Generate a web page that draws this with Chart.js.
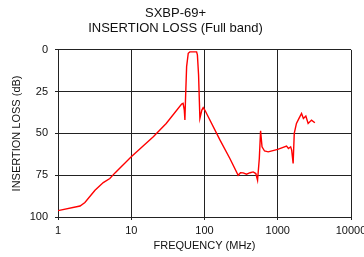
<!DOCTYPE html>
<html>
<head>
<meta charset="utf-8">
<script src="https://cdn.jsdelivr.net/npm/chart.js@4/dist/chart.umd.min.js"></script>
<style>
  html, body { margin: 0; padding: 0; background: #fff; }
  #wrap { width: 364px; height: 257px; }
</style>
</head>
<body>
<div id="wrap"><canvas id="chart" width="364" height="257"></canvas></div>
<script>
// 데이터
const freqMHz = [1, 2, 2.33, 3.2, 4.15, 5.1, 6, 10, 20, 30, 48.7, 51, 53, 54, 55, 57, 60, 63, 78, 80, 83, 86.5, 92, 96, 101,
  163, 222, 288, 310, 337, 375, 420, 462, 502, 530, 560, 583, 610, 660, 740, 1000, 1318, 1400, 1500, 1550, 1622, 1680,
  1800, 1950, 2113, 2240, 2418, 2600, 2890, 3210];
const lossDb = [96.2, 93.4, 91.3, 84, 79.4, 77, 73.6, 64, 52, 44, 32.4, 32, 36, 42, 30, 10, 2, 1.2, 1.2, 3, 15, 41, 36, 34.5, 36,
  54, 65, 75, 73.5, 73.6, 74.4, 73.5, 73, 74, 78, 65, 48.4, 58, 60.5, 61, 59.5, 57.6, 59, 58, 60, 68, 50,
  44, 41, 38, 41, 39.6, 44, 42, 43.6];
const xTicks = [1, 10, 100, 1000, 10000];
const yTicks = [0, 25, 50, 75, 100];

const points = freqMHz.map((f, i) => ({ x: f, y: lossDb[i] }));
const gridColor = '#222';
const font = 'Liberation Sans, Arial, Helvetica, sans-serif';

new Chart(document.getElementById('chart'), {
  type: 'line',
  data: {
    datasets: [{
      data: points,
      borderColor: '#ff0000',
      borderWidth: 1.4,
      pointRadius: 0,
      fill: false,
      tension: 0
    }]
  },
  options: {
    responsive: false,
    animation: false,
    layout: { padding: { left: 0, right: 13, top: 0, bottom: 0 } },
    plugins: {
      legend: { display: false },
      tooltip: { enabled: false },
      title: {
        display: true,
        text: ['SXBP-69+', 'INSERTION LOSS (Full band)'],
        color: '#111',
        font: { family: font, size: 13, weight: 'normal', lineHeight: 1.15 },
        padding: { top: 6, bottom: 14 }
      }
    },
    scales: {
      x: {
        type: 'logarithmic',
        min: 1,
        max: 10000,
        afterBuildTicks: (scale) => { scale.ticks = xTicks.map(v => ({ value: v })); },
        afterFit: (scale) => { scale.height = 40; scale.paddingLeft = 0; scale.paddingRight = 0; },
        ticks: {
          color: '#111',
          font: { family: font, size: 11 },
          padding: 4,
          maxRotation: 0,
          autoSkip: false,
          callback: (v) => String(v)
        },
        grid: { color: gridColor, lineWidth: 1, tickLength: 3 },
        border: { color: gridColor, width: 1 },
        title: {
          display: true,
          text: 'FREQUENCY (MHz)',
          color: '#111',
          font: { family: font, size: 11, lineHeight: 1.2 },
          padding: { top: 0, bottom: 4 }
        }
      },
      y: {
        min: 0,
        max: 100,
        reverse: true,
        afterBuildTicks: (scale) => { scale.ticks = yTicks.map(v => ({ value: v })); },
        afterFit: (scale) => { scale.width = 58; scale.paddingTop = 0; scale.paddingBottom = 0; },
        ticks: {
          color: '#111',
          font: { family: font, size: 11 },
          padding: 7
        },
        grid: { color: gridColor, lineWidth: 1, tickLength: 3 },
        border: { color: gridColor, width: 1 },
        title: {
          display: true,
          text: 'INSERTION LOSS (dB)',
          color: '#111',
          font: { family: font, size: 11, lineHeight: 1.2 },
          padding: { top: 10, bottom: 0 }
        }
      }
    }
  }
});
</script>
</body>
</html>
